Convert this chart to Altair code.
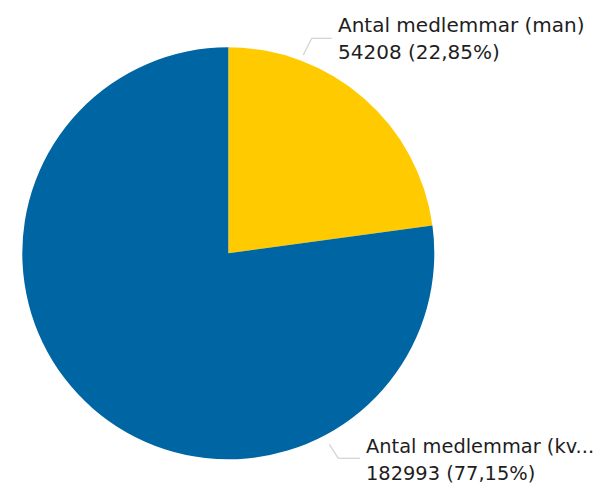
import altair as alt
import pandas as pd

categories = ["Antal medlemmar (man)", "Antal medlemmar (kvinnor)"]
short_labels = ["Antal medlemmar (man)", "Antal medlemmar (kv..."]
values = [54208, 182993]
colors = ["#FFCB00", "#0065A3"]

total = sum(values)
pct_text = [f"{v / total * 100:.2f}".replace(".", ",") + "%" for v in values]

df = pd.DataFrame({
    "category": categories,
    "short": short_labels,
    "value": values,
    "pct": pct_text,
    "order": [0, 1],
})
df["line2"] = [f"{v} ({p})" for v, p in zip(values, pct_text)]

# Offset from page coordinates (8px page margin)
M = 8
cx, cy, R = 228.3 - M, 253.3 - M, 206

base = alt.Chart(df)

pie = base.mark_arc(outerRadius=R, stroke=None).encode(
    theta=alt.Theta("value:Q", stack=True),
    color=alt.Color("category:N", scale=alt.Scale(domain=categories, range=colors), legend=None),
    order=alt.Order("order:Q"),
    x=alt.value(cx),
    y=alt.value(cy),
)

label_x = [338 - M, 366 - M]
label_y = [31.7 - M, 453 - M]
label_size = [20, 19.4]

texts = []
for i in range(2):
    t = base.transform_filter(alt.datum.order == i).transform_calculate(
        lbl=alt.datum.short + "\n" + alt.datum.line2
    ).mark_text(
        align="left", baseline="alphabetic", font="DejaVu Sans", fontSize=label_size[i],
        lineBreak="\n", lineHeight=27, color="#1e1e1e"
    ).encode(
        text="lbl:N",
        x=alt.value(label_x[i]),
        y=alt.value(label_y[i]),
    )
    texts.append(t)

leaders = [
    (303.3, 55, 311.7, 38.3), (311.7, 38.3, 331.7, 38.3),
    (329.3, 444.3, 338.3, 458.3), (338.3, 458.3, 360, 458.3),
]
rules = []
for (x1, y1, x2, y2) in leaders:
    r = base.transform_filter(alt.datum.order == 0).mark_rule(
        color="#d4d4d4", strokeWidth=1.3
    ).encode(
        x=alt.value(x1 - M), y=alt.value(y1 - M),
        x2=alt.value(x2 - M), y2=alt.value(y2 - M),
    )
    rules.append(r)

chart = alt.layer(pie, *rules, *texts).properties(
    width=591, height=480,
    autosize=alt.AutoSizeParams(type="none"),
    padding=0,
).configure_view(stroke=None)

chart.save("out.html", embed_options={"renderer": "svg", "actions": False})
